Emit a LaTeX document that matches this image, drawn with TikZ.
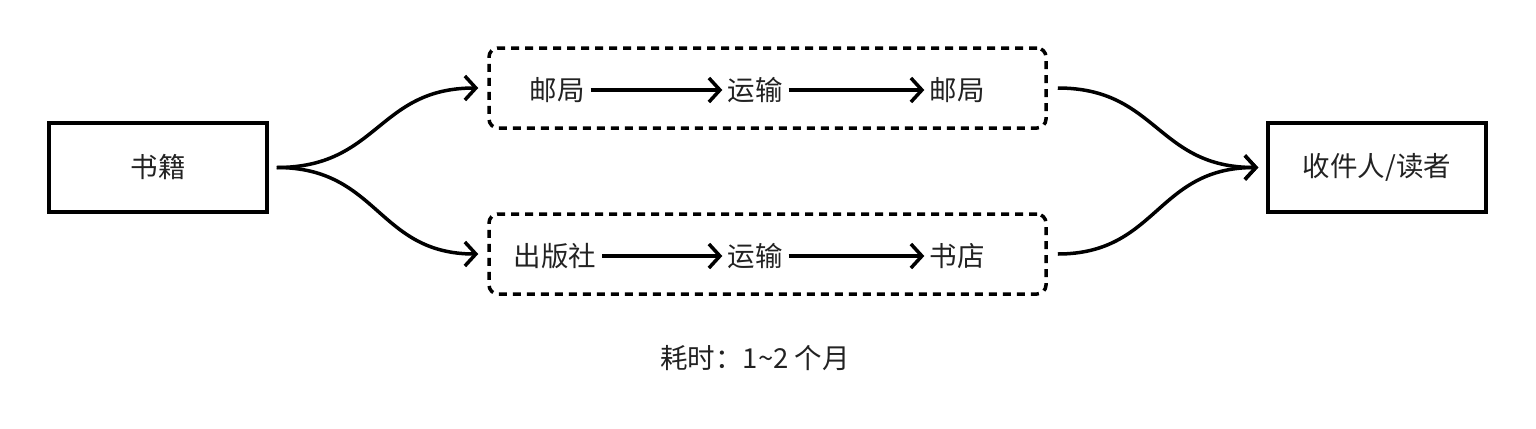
\documentclass[tikz,border=0pt]{standalone}
\usepackage{fontspec}
\setmainfont{Noto Sans CJK SC}
\usetikzlibrary{arrows.meta}
\definecolor{txt}{HTML}{222222}
\tikzset{
  box/.style={draw=black, line width=3.5bp, minimum width=218bp, minimum height=89bp, inner sep=0pt, text=txt, font=\fontsize{27.5bp}{32bp}\selectfont},
  grp/.style={draw=black, line width=3.5bp, dash pattern=on 8bp off 6bp, rounded corners=9bp, minimum width=557bp, minimum height=80bp, inner sep=0pt},
  lbl/.style={inner sep=0pt, text=txt, font=\fontsize{27.5bp}{32bp}\selectfont},
  conn/.style={line width=3.5bp, -{Straight Barb[length=11bp, width=24bp, line width=3.5bp]}},
}
\begin{document}
\begin{tikzpicture}[x=1bp, y=-1bp]
\useasboundingbox (0,0) rectangle (1536,428);
\node[box] (book) at (158,167.5) {书籍};
\node[box] (reader) at (1377,167.5) {收件人/读者};
\node[grp] (top) at (767.5,88) {};
\node[grp] (bot) at (767.5,254) {};
% top row
\node[lbl] (t1) at (557,90) {邮局};
\node[lbl] (t2) at (755,90) {运输};
\node[lbl] (t3) at (957,90) {邮局};
% bottom row
\node[lbl] (b1) at (555,256) {出版社};
\node[lbl] (b2) at (755,256) {运输};
\node[lbl] (b3) at (957,256) {书店};
\draw[conn, shorten <=6bp, shorten >=5bp] (t1.east) -- (t2.west);
\draw[conn, shorten <=6bp, shorten >=5bp] (t2.east) -- (t3.west);
\draw[conn, shorten <=6bp, shorten >=5bp] (b1.east) -- (b2.west);
\draw[conn, shorten <=6bp, shorten >=5bp] (b2.east) -- (b3.west);
% curves
\draw[conn, shorten <=8bp, shorten >=9bp] (book.east) .. controls +(110,0) and +(-110,0) .. (top.west);
\draw[conn, shorten <=8bp, shorten >=9bp] (book.east) .. controls +(110,0) and +(-110,0) .. (bot.west);
\draw[conn, shorten <=10bp, shorten >=8bp] (top.east) .. controls +(110,0) and +(-110,0) .. (reader.west);
\draw[conn, shorten <=10bp, shorten >=8bp] (bot.east) .. controls +(110,0) and +(-110,0) .. (reader.west);
\node[lbl] (note) at (755,358) {耗时：1\textasciitilde 2 个月};
\end{tikzpicture}
\end{document}
